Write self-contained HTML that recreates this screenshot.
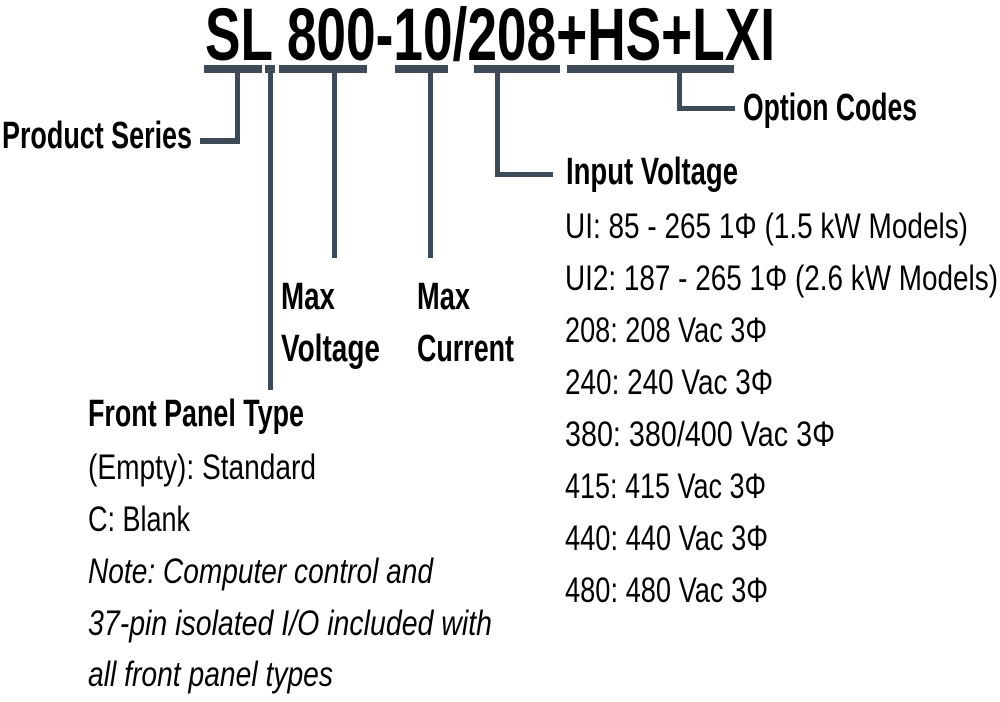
<!DOCTYPE html>
<html><head><meta charset="utf-8"><style>
html,body{margin:0;padding:0;background:#fff;}
svg{display:block;}
text{font-family:"Liberation Sans Narrow","Liberation Sans",sans-serif;fill:#000;}
.b{font-weight:bold;}
.r{font-size:35px;}
.i{font-style:italic;font-size:35px;}
</style></head><body>
<svg width="1000" height="702" viewBox="0 0 1000 702" xmlns="http://www.w3.org/2000/svg">
<text class="b" x="205" y="60" font-size="74" textLength="570" lengthAdjust="spacingAndGlyphs">SL 800-10/208+HS+LXI</text>
<g fill="#3d4a57">
<rect x="204" y="65" width="58" height="8"/>
<rect x="265" y="65" width="10" height="8"/>
<rect x="279" y="65" width="88" height="8"/>
<rect x="395" y="65" width="53" height="8"/>
<rect x="474" y="65" width="86" height="8"/>
<rect x="567" y="65" width="167" height="8"/>
<rect x="235" y="70" width="5" height="74"/>
<rect x="200" y="138" width="40" height="6"/>
<rect x="268" y="70" width="5" height="320"/>
<rect x="332" y="70" width="5" height="188"/>
<rect x="428" y="70" width="5" height="188"/>
<rect x="495" y="70" width="5" height="107"/>
<rect x="495" y="172" width="58" height="5"/>
<rect x="677" y="70" width="5" height="41"/>
<rect x="677" y="106" width="58" height="5"/>
</g>
<text class="b" x="2" y="148" font-size="38" textLength="190" lengthAdjust="spacingAndGlyphs">Product Series</text>
<text class="b" x="743" y="120" font-size="38" textLength="174" lengthAdjust="spacingAndGlyphs">Option Codes</text>
<text class="b" x="566" y="184" font-size="38" textLength="172" lengthAdjust="spacingAndGlyphs">Input Voltage</text>
<text class="b" x="281" y="309" font-size="38" textLength="54" lengthAdjust="spacingAndGlyphs">Max</text>
<text class="b" x="281" y="361" font-size="38" textLength="99" lengthAdjust="spacingAndGlyphs">Voltage</text>
<text class="b" x="417" y="309" font-size="38" textLength="53" lengthAdjust="spacingAndGlyphs">Max</text>
<text class="b" x="417" y="361" font-size="38" textLength="97" lengthAdjust="spacingAndGlyphs">Current</text>
<text class="b" x="88" y="426" font-size="38" textLength="216" lengthAdjust="spacingAndGlyphs">Front Panel Type</text>
<text class="r" x="88" y="479" textLength="228" lengthAdjust="spacingAndGlyphs">(Empty): Standard</text>
<text class="r" x="88" y="531" textLength="102" lengthAdjust="spacingAndGlyphs">C: Blank</text>
<text class="i" x="88" y="583" textLength="345" lengthAdjust="spacingAndGlyphs">Note: Computer control and</text>
<text class="i" x="88" y="635" textLength="404" lengthAdjust="spacingAndGlyphs">37-pin isolated I/O included with</text>
<text class="i" x="88" y="686" textLength="245" lengthAdjust="spacingAndGlyphs">all front panel types</text>
<text class="r" x="565" y="238" textLength="403" lengthAdjust="spacingAndGlyphs">UI: 85 - 265 1Φ (1.5 kW Models)</text>
<text class="r" x="565" y="290" textLength="433" lengthAdjust="spacingAndGlyphs">UI2: 187 - 265 1Φ (2.6 kW Models)</text>
<text class="r" x="565" y="342" textLength="202" lengthAdjust="spacingAndGlyphs">208: 208 Vac 3Φ</text>
<text class="r" x="565" y="394" textLength="208" lengthAdjust="spacingAndGlyphs">240: 240 Vac 3Φ</text>
<text class="r" x="565" y="446" textLength="270" lengthAdjust="spacingAndGlyphs">380: 380/400 Vac 3Φ</text>
<text class="r" x="565" y="498" textLength="201" lengthAdjust="spacingAndGlyphs">415: 415 Vac 3Φ</text>
<text class="r" x="565" y="550" textLength="203" lengthAdjust="spacingAndGlyphs">440: 440 Vac 3Φ</text>
<text class="r" x="565" y="602" textLength="203" lengthAdjust="spacingAndGlyphs">480: 480 Vac 3Φ</text>
</svg>
</body></html>
